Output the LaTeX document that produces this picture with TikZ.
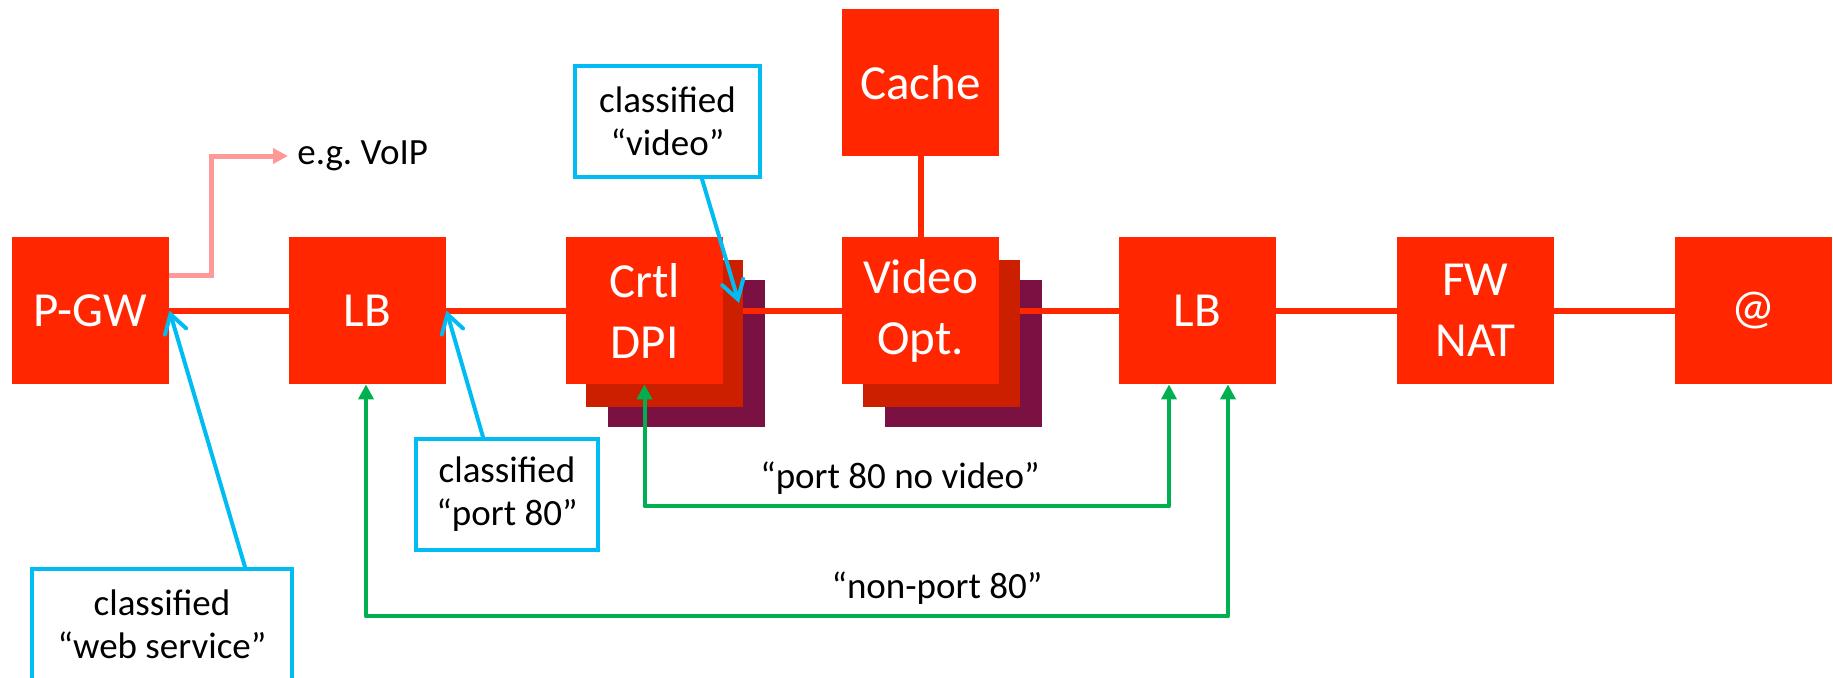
\documentclass[tikz,border=0pt]{standalone}
\usepackage{fontspec}
\setmainfont{Carlito}
\usetikzlibrary{arrows.meta}
\definecolor{boxred}{RGB}{255,38,0}
\definecolor{shadowa}{RGB}{204,31,0}
\definecolor{shadowb}{RGB}{123,17,66}
\definecolor{pinkln}{RGB}{255,153,153}
\definecolor{cblue}{RGB}{0,188,242}
\definecolor{cgreen}{RGB}{0,176,80}
\pgfdeclarelayer{sa}\pgfdeclarelayer{ln}\pgfdeclarelayer{sb}
\pgfsetlayers{sa,ln,sb,main}
\frenchspacing
\begin{document}
\begin{tikzpicture}[x=0.5pt,y=-0.5pt,
  redbox/.style={rectangle, fill=boxred, text=white, minimum width=78.5pt, minimum height=73.5pt, inner sep=0pt, align=center, font=\fontsize{24.5}{30.5}\selectfont},
  shadowone/.style={rectangle, fill=shadowa, minimum width=78.5pt, minimum height=73.5pt, inner sep=0pt},
  shadowtwo/.style={rectangle, fill=shadowb, minimum width=78.5pt, minimum height=73.5pt, inner sep=0pt},
  mainline/.style={draw=boxred, line width=3pt},
  callout/.style={rectangle, draw=cblue, line width=2pt, fill=white, text=black, align=center, inner sep=0pt, minimum height=55.5pt, font=\fontsize{18.5}{21.5}\selectfont},
  bluearrow/.style={draw=cblue, line width=2pt, line cap=round, -{Straight Barb[length=9pt,width=11pt,line cap=round]}},
  greenarrow/.style={draw=cgreen, line width=2pt, line join=round, {Triangle[length=7.5pt,width=7.5pt]}-{Triangle[length=7.5pt,width=7.5pt]}},
  pinkarrow/.style={draw=pinkln, line width=2.5pt, -{Triangle[length=7.5pt,width=7.5pt]}},
  lbl/.style={text=black, font=\fontsize{18.5}{21.5}\selectfont, inner sep=0pt}]
\useasboundingbox (0,0) rectangle (1833,677);
\clip (0,0) rectangle (1833,677);

% main boxes
\node[redbox] (pgw) at (90.5,310.5) {P-GW};
\node[redbox] (lb1) at (367.5,310.5) {LB};
\node[redbox] (dpi) at (644.5,310.5) {Crtl\\DPI};
\node[redbox] (vid) at (920.5,310.5) {Video\\Opt.};
\node[redbox] (cache) at (920.5,82.5) {Cache};
\node[redbox] (lb2) at (1197.5,310.5) {LB};
\node[redbox] (fw) at (1475.5,310.5) {FW\\NAT};
\node[redbox] (at) at (1753.5,310.5) {@};

% stacked shadows
\begin{pgfonlayer}{sa}
\node[shadowtwo] (dpis2) at (686.5,353.5) {};
\node[shadowtwo] (vids2) at (963.5,353.5) {};
\end{pgfonlayer}
\begin{pgfonlayer}{sb}
\node[shadowone] (dpis1) at (664.5,333.5) {};
\node[shadowone] (vids1) at (941.5,333.5) {};
\end{pgfonlayer}

% main line
\begin{pgfonlayer}{ln}
\draw[mainline] (pgw) -- (lb1) -- (dpi) -- (vid) -- (lb2) -- (fw) -- (at);
\draw[mainline] (cache) -- (vid);
\end{pgfonlayer}

% VoIP branch
\node[lbl, anchor=west, inner xsep=4.5pt] (voip) at (288,156) {e.g. VoIP};
\draw[pinkarrow] ([yshift=17.75pt]pgw.east) -- ++(42,0) |- (voip.west);

% callouts
\node[callout, minimum width=130pt] (ws) at (162,624.5) {classified\\“web service”};
\node[callout, minimum width=91pt] (p80) at (507,494.5) {classified\\“port 80”};
\node[callout, minimum width=92.5pt] (vc) at (667.5,121.5) {classified\\“video”};
\coordinate (vtip) at (739,303);
\draw[bluearrow] ([xshift=41.5pt]ws.north) -- (pgw.east);
\draw[bluearrow] ([xshift=-12pt]p80.north) -- (lb1.east);
\draw[bluearrow] ([xshift=17.25pt]vc.south) -- (vtip);

% green routes
\draw[greenarrow] (dpi.south) -- ++(0,122) -| ([xshift=-14.25pt]lb2.south);
\draw[greenarrow] ([xshift=-0.75pt]lb1.south) -- ++(0,232) -| ([xshift=15.25pt]lb2.south);
\node[lbl] (l1) at (900,478) {“port 80 no video”};
\node[lbl] (l2) at (937,588) {“non-port 80”};
\end{tikzpicture}
\end{document}
